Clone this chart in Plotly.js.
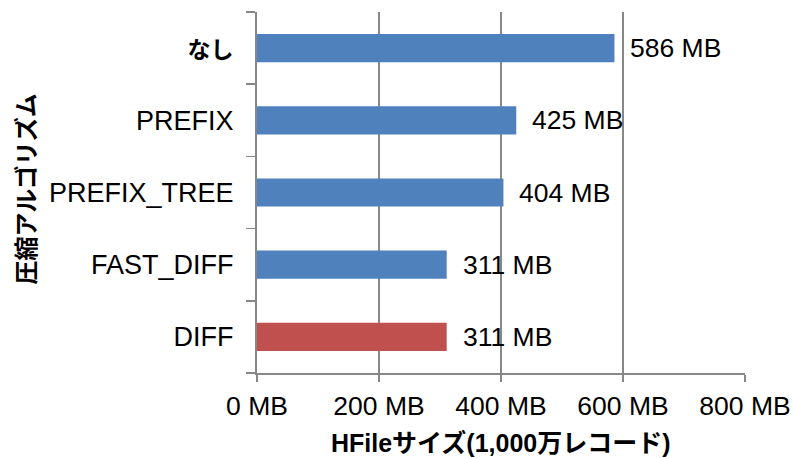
<!DOCTYPE html>
<html>
<head>
<meta charset="utf-8">
<script src="https://cdn.plot.ly/plotly-3.0.1.min.js"></script>
<style>
  html, body { margin: 0; padding: 0; background: #fff; }
  #chart { width: 794px; height: 458px; }
</style>
</head>
<body>
<div id="chart"></div>
<script>
// Compression algorithms and resulting HFile size (MB) for 10M records
const algorithms = ['なし', 'PREFIX', 'PREFIX_TREE', 'FAST_DIFF', 'DIFF'];
const tickLabels = ['<b><span style="font-size:23px">なし</span></b>', 'PREFIX', 'PREFIX_TREE', 'FAST_DIFF', 'DIFF'];
const sizesMB = [586, 425, 404, 311, 311];
const barColors = ['#4F81BD', '#4F81BD', '#4F81BD', '#4F81BD', '#C0504D'];
const xTickValues = [0, 200, 400, 600, 800];
const xTickLabels = ['0 MB', '200 MB', '400 MB', '600 MB', '800 MB'];

const FONT = 'Liberation Sans, Arial, Noto Sans CJK JP, sans-serif';
const GRID = '#878787';

const trace = {
  type: 'bar',
  orientation: 'h',
  y: algorithms,
  x: sizesMB,
  width: 0.39,
  marker: { color: barColors, line: { width: 0 } },
  hoverinfo: 'none'
};

// value labels to the right of each bar
const valueLabels = algorithms.map((a, i) => ({
  x: sizesMB[i],
  y: a,
  xref: 'x',
  yref: 'y',
  text: sizesMB[i] + ' MB',
  showarrow: false,
  xanchor: 'left',
  yanchor: 'middle',
  xshift: 14,
  font: { family: FONT, size: 26.5, color: '#000' }
}));

const titles = [
  {
    text: '<b>圧縮アルゴリズム</b>',
    xref: 'paper', yref: 'paper',
    x: -0.472, y: 0.51,
    textangle: -90,
    showarrow: false,
    xanchor: 'center', yanchor: 'middle',
    font: { family: FONT, size: 24, color: '#000' }
  },
  {
    text: '<b>HFileサイズ(1,000万レコード)</b>',
    xref: 'paper', yref: 'paper',
    x: 0.5, y: -0.195,
    showarrow: false,
    xanchor: 'center', yanchor: 'middle',
    font: { family: FONT, size: 25, color: '#000' }
  }
];

const layout = {
  width: 794,
  height: 458,
  margin: { l: 257, r: 49, t: 12, b: 85 },
  paper_bgcolor: '#fff',
  plot_bgcolor: '#fff',
  showlegend: false,
  font: { family: FONT, size: 26, color: '#000' },
  xaxis: {
    range: [0, 800],
    tickvals: xTickValues,
    ticktext: xTickLabels,
    showgrid: true,
    gridcolor: GRID,
    gridwidth: 1.4,
    zeroline: false,
    showline: true,
    linecolor: GRID,
    linewidth: 2,
    ticks: 'outside',
    ticklen: 7,
    tickwidth: 1.5,
    tickcolor: GRID,
    ticklabelstandoff: 1,
    tickfont: { family: FONT, size: 26.5, color: '#000' },
    fixedrange: true
  },
  yaxis: {
    type: 'category',
    categoryorder: 'array',
    categoryarray: algorithms,
    tickvals: algorithms,
    ticktext: tickLabels,
    autorange: 'reversed',
    showgrid: false,
    zeroline: false,
    showline: true,
    linecolor: GRID,
    linewidth: 2,
    ticks: 'outside',
    tickson: 'boundaries',
    ticklen: 9,
    tickwidth: 1.5,
    tickcolor: GRID,
    ticklabelstandoff: 16,
    tickfont: { family: FONT, size: 27, color: '#000' },
    fixedrange: true
  },
  annotations: valueLabels.concat(titles)
};

Plotly.newPlot('chart', [trace], layout, { displayModeBar: false, staticPlot: true });
</script>
</body>
</html>
